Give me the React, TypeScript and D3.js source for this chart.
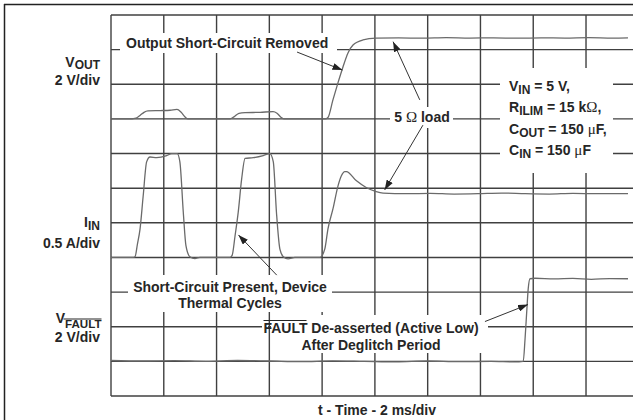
import React from 'react';
import * as d3 from 'd3';

// ---- scope settings ----
const timeDomainMs = [0, 20];          // 2 ms/div, 10 divisions
const divDomain = [0, 11];             // vertical divisions
const vGridTimes = [0, 2, 4, 6, 8, 10, 12, 14, 16, 18, 20];
const hGridDivs = [0, 1, 2, 3, 4, 5, 6, 7, 8, 9, 10, 11];

// channel zero positions (division index from bottom) and scale per division
const voutZeroDiv = 8;
const voutPerDiv = 2;     // V/div
const iinZeroDiv = 4;
const iinPerDiv = 0.5;    // A/div
const vfaultZeroDiv = 1;
const vfaultPerDiv = 2;   // V/div

// ---- traces ----
const voutTime = [0, 0.64, 0.95, 1.10, 1.25, 1.40, 1.86, 2.24, 2.50, 2.65, 2.80, 2.92, 3.6, 4.51, 4.66, 4.85, 5.08, 5.65, 6.14, 6.29, 6.44, 6.56, 7.3, 8.11, 8.22, 8.41, 8.60, 8.79, 8.98, 9.17, 9.55, 10.04, 10.9, 11.8, 12.7, 13.6, 14.5, 15.4, 16.3, 17.2, 18.1, 19.0, 19.59];
const voutVolts = [0, 0, 0.05, 0.2, 0.38, 0.46, 0.48, 0.5, 0.55, 0.4, 0.12, 0, 0, 0, 0.12, 0.32, 0.36, 0.38, 0.42, 0.33, 0.1, 0, 0, 0, 0.08, 1.10, 2.08, 3.0, 3.81, 4.27, 4.56, 4.66, 4.68, 4.66, 4.69, 4.67, 4.68, 4.66, 4.68, 4.67, 4.69, 4.67, 4.68];

const iinTime = [0, 0.83, 0.91, 1.00, 1.10, 1.22, 1.35, 1.48, 1.73, 2.11, 2.30, 2.51, 2.61, 2.74, 2.84, 2.99, 3.18, 3.37, 4.51, 4.59, 4.70, 4.82, 4.95, 5.08, 5.39, 5.77, 6.02, 6.15, 6.27, 6.40, 6.53, 6.71, 6.97, 7.92, 8.10, 8.22, 8.41, 8.60, 8.73, 8.86, 8.92, 9.29, 9.67, 10.05, 10.31, 11.2, 12.1, 13.0, 13.9, 14.8, 15.7, 16.6, 17.5, 18.4, 19.59];
const iinAmps = [0, 0, 0.01, 0.19, 0.41, 0.89, 1.38, 1.45, 1.44, 1.47, 1.50, 1.50, 1.38, 0.65, 0.17, 0.01, -0.015, 0, 0, 0.03, 0.31, 0.65, 1.13, 1.43, 1.44, 1.47, 1.50, 1.38, 0.65, 0.12, 0.01, -0.02, 0, 0, 0.12, 0.41, 0.70, 1.03, 1.18, 1.24, 1.24, 1.11, 1.01, 0.95, 0.93, 0.92, 0.925, 0.915, 0.92, 0.93, 0.92, 0.915, 0.925, 0.92, 0.92];

const vfaultTime = [0, 1.2, 2.4, 3.6, 4.8, 6.0, 7.2, 8.4, 9.6, 10.8, 12.0, 13.2, 14.4, 15.3, 15.62, 15.69, 15.76, 15.81, 15.88, 16.07, 16.8, 17.5, 18.2, 18.9, 19.59];
const vfaultVolts = [0.05, 0.02, 0.04, 0.0, 0.05, 0.02, -0.02, 0.03, 0.0, -0.03, 0.02, -0.02, 0.0, -0.03, 0, 1.31, 3.04, 4.2, 4.77, 4.80, 4.76, 4.79, 4.74, 4.78, 4.77];

// ---- annotation arrows (time ms, division) ----
const arrowFromT = [7.05, 11.70, 11.82, 6.28, 14.17];
const arrowFromD = [9.93, 8.55, 7.82, 3.49, 2.15];
const arrowToT = [8.77, 10.69, 10.37, 4.83, 15.80];
const arrowToD = [9.41, 10.23, 5.95, 4.65, 2.64];

const W = 633;
const H = 420;
const FONT = "'Liberation Sans', Arial, Helvetica, sans-serif";
const SYM = "'Liberation Serif', 'DejaVu Serif', serif";
const TXT = '#262626';
const GRID = '#404040';
const TRACE = '#6a6a6a';

// white label backgrounds that interrupt the graticule
const masks = [
  { x: 120, y: 33, w: 217, h: 20 },
  { x: 390, y: 107, w: 63, h: 21 },
  { x: 500, y: 68, w: 113, h: 105 },
  { x: 128, y: 275, w: 204, h: 37 },
  { x: 271, y: 315, w: 217, h: 38 },
  { x: 262, y: 322, w: 6, h: 10 },
];

export default function App() {
  const x = d3.scaleLinear().domain(timeDomainMs).range([111, 638.8]);
  const y = d3.scaleLinear().domain(divDomain).range([396, 15]);

  const line = d3
    .line<[number, number]>()
    .x((d) => x(d[0]))
    .y((d) => y(d[1]))
    .curve(d3.curveMonotoneX);

  const vout = voutTime.map((t, i) => [t, voutZeroDiv + voutVolts[i] / voutPerDiv] as [number, number]);
  const iin = iinTime.map((t, i) => [t, iinZeroDiv + iinAmps[i] / iinPerDiv] as [number, number]);
  const vfault = vfaultTime.map((t, i) => [t, vfaultZeroDiv + vfaultVolts[i] / vfaultPerDiv] as [number, number]);

  const x0 = x(timeDomainMs[0]);
  const x1 = x(timeDomainMs[1]);
  const yTop = y(divDomain[1]);
  const yBot = y(divDomain[0]);

  return (
    <svg
      width={W}
      height={H}
      style={{ position: 'absolute', left: 0, top: 0, background: '#fff' }}
      fontFamily={FONT}
      fontWeight="bold"
      fontSize={14}
      fill={TXT}
    >
      <defs>
        <marker id="ah" viewBox="0 0 10 7" refX="10" refY="3.5" markerWidth="10" markerHeight="7" markerUnits="userSpaceOnUse" orient="auto">
          <path d="M0,0 L10,3.5 L0,7 z" fill="#222" />
        </marker>
      </defs>
      <rect x={0} y={0} width={W} height={H} fill="#fff" />
      {/* outer frame */}
      <line x1={4} y1={4.5} x2={W} y2={4.5} stroke="#222" strokeWidth={1.5} />
      <line x1={4.5} y1={4} x2={4.5} y2={H} stroke="#222" strokeWidth={1.5} />

      {/* graticule */}
      <g stroke={GRID} strokeWidth={1.4}>
        {vGridTimes.map((t) => (
          <line key={'v' + t} x1={x(t)} x2={x(t)} y1={yTop} y2={yBot} />
        ))}
        {hGridDivs.map((d) => (
          <line key={'h' + d} x1={x0} x2={x1} y1={y(d)} y2={y(d)} />
        ))}
      </g>
      {masks.map((m, i) => (
        <rect key={'m' + i} x={m.x} y={m.y} width={m.w} height={m.h} fill="#fff" />
      ))}

      {/* traces */}
      <g fill="none" stroke={TRACE} strokeWidth={1.3} strokeLinejoin="round">
        <path d={line(vout) || ''} />
        <path d={line(iin) || ''} />
        <path d={line(vfault) || ''} />
      </g>

      {/* arrows */}
      <g stroke="#333" strokeWidth={1}>
        {arrowFromT.map((t, i) => (
          <line key={'a' + i} x1={x(t)} y1={y(arrowFromD[i])} x2={x(arrowToT[i])} y2={y(arrowToD[i])} markerEnd="url(#ah)" />
        ))}
      </g>

      {/* channel labels */}
      <g textAnchor="end">
        <text x={100} y={66.5}>
          V<tspan fontSize={12} dy={2.5}>OUT</tspan>
        </text>
        <text x={100} y={85}>2 V/div</text>
        <text x={100} y={226.7}>
          I<tspan fontSize={12} dy={3.3}>IN</tspan>
        </text>
        <text x={100} y={247.5}>0.5 A/div</text>
        <text x={101.5} y={323.3}>
          V<tspan fontSize={11.6} dy={5}>FAULT</tspan>
        </text>
        <line x1={63.5} x2={101.5} y1={319} y2={319} stroke={TXT} strokeWidth={1.2} />
        <text x={100} y={342}>2 V/div</text>
      </g>

      {/* annotations */}
      <text x={126} y={48}>Output Short-Circuit Removed</text>
      <text x={422} y={121.5} textAnchor="middle">
        5 <tspan fontFamily={SYM} fontWeight="normal" fontSize={15}>Ω</tspan> load
      </text>
      <g>
        <text x={509} y={90.5}>
          V<tspan fontSize={12} dy={3}>IN</tspan>
          <tspan dy={-3}> = 5 V,</tspan>
        </text>
        <text x={509} y={112}>
          R<tspan fontSize={12} dy={3}>ILIM</tspan>
          <tspan dy={-3}> = 15 k</tspan>
          <tspan fontFamily={SYM} fontWeight="normal" fontSize={15}>Ω</tspan>,
        </text>
        <text x={509} y={133.5}>
          C<tspan fontSize={12} dy={3}>OUT</tspan>
          <tspan dy={-3}> = 150 </tspan>
          <tspan fontFamily={SYM} fontWeight="normal" fontSize={15}>μ</tspan>F,
        </text>
        <text x={509} y={155}>
          C<tspan fontSize={12} dy={3}>IN</tspan>
          <tspan dy={-3}> = 150 </tspan>
          <tspan fontFamily={SYM} fontWeight="normal" fontSize={15}>μ</tspan>F
        </text>
      </g>
      <g textAnchor="middle">
        <text x={230} y={291.5}>Short-Circuit Present, Device</text>
        <text x={230} y={308}>Thermal Cycles</text>
        <text x={371} y={333}>FAULT De-asserted (Active Low)</text>
        <text x={371} y={349.5}>After Deglitch Period</text>
        <text x={377} y={415}>t - Time - 2 ms/div</text>
      </g>
      <line x1={263.5} x2={306.5} y1={320.5} y2={320.5} stroke={TXT} strokeWidth={1.2} />
    </svg>
  );
}
